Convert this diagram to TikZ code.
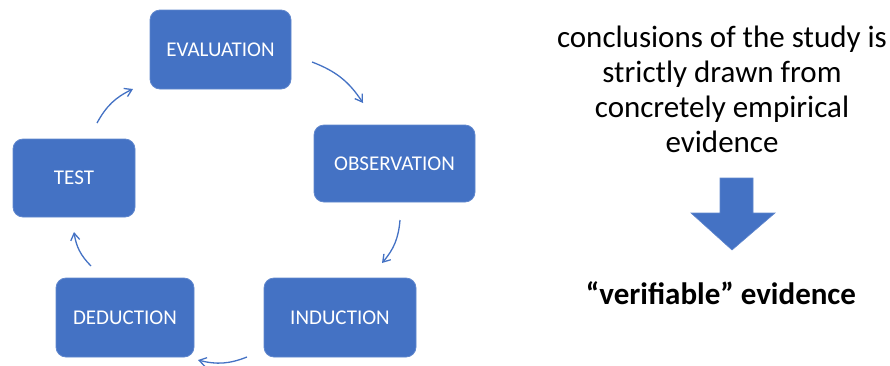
\documentclass[tikz,border=0pt]{standalone}
\usepackage{fontspec}
\setmainfont{Carlito}
\usetikzlibrary{arrows.meta}
\definecolor{boxblue}{HTML}{4472C4}
\tikzset{
  stage/.style={fill=boxblue, draw=boxblue!85!white, line width=0.8pt, rounded corners=10pt,
    text=white, font=\fontsize{21}{24}\selectfont, anchor=center, inner sep=0pt},
  cyc/.style={draw=boxblue, line width=1.3pt, -{Straight Barb[length=7pt,width=9pt,line width=1.3pt]}, bend left=18},
  plain/.style={font=\fontsize{31}{35}\selectfont, align=center, text=black}
}
\begin{document}
\begin{tikzpicture}[x=1pt,y=-1pt]
\path[use as bounding box] (0,0) rectangle (890,365);
% cycle of stages
\node[stage, minimum width=141pt, minimum height=79pt] (eval) at (220.5,49.5) {EVALUATION};
\node[stage, minimum width=161pt, minimum height=77pt] (obs) at (394.5,163.5) {OBSERVATION};
\node[stage, minimum width=152pt, minimum height=79pt] (ind) at (340,317.5) {INDUCTION};
\node[stage, minimum width=138pt, minimum height=79pt] (ded) at (125,317.5) {DEDUCTION};
\node[stage, minimum width=122pt, minimum height=78pt] (test) at (74,178) {TEST};
% arrow end points between the stages
\coordinate (a1) at (312,62);  \coordinate (b1) at (363,103);
\coordinate (a2) at (400,220); \coordinate (b2) at (382,263);
\coordinate (a3) at (247,357); \coordinate (b3) at (198,360);
\coordinate (a4) at (91,266);  \coordinate (b4) at (74,232);
\coordinate (a5) at (97,123);  \coordinate (b5) at (133,89);
\draw[cyc] (a1) to (b1);
\draw[cyc] (a2) to (b2);
\draw[cyc] (a3) to (b3);
\draw[cyc] (a4) to (b4);
\draw[cyc] (a5) to (b5);
% statement, block arrow and result
\node[plain] (concl) at (722,89) {conclusions of the study is\\strictly drawn from\\concretely empirical\\evidence};
\path[fill=boxblue, draw=boxblue!85!white, line width=0.6pt] (720,178) -- (753,178) -- (753,213) -- (775,213) -- (732,250) -- (691,213) -- (720,213) -- cycle;
\node[plain, font=\bfseries\fontsize{31}{35}\selectfont] (verif) at (721,293) {“verifiable” evidence};
\end{tikzpicture}
\end{document}
